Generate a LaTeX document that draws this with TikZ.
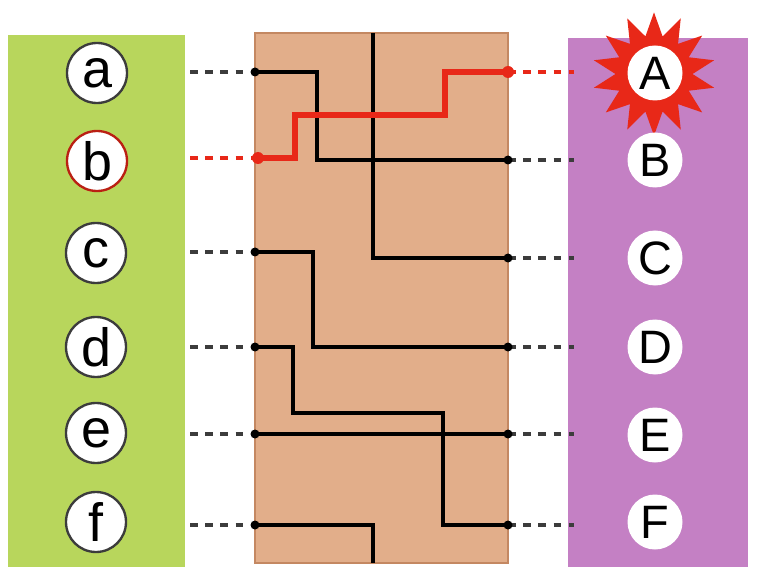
\documentclass[tikz,border=0pt]{standalone}
\usepackage{fontspec}
\setsansfont{Liberation Sans}
\usetikzlibrary{shapes.geometric}
\definecolor{leftgreen}{RGB}{184,214,92}
\definecolor{rightpurple}{RGB}{196,128,196}
\definecolor{boardtan}{RGB}{226,174,138}
\definecolor{boardedge}{RGB}{196,136,98}
\definecolor{wirered}{RGB}{232,40,24}
\definecolor{dashgray}{RGB}{60,60,60}

\begin{document}
\begin{tikzpicture}[x=0.03cm, y=-0.03cm,
    lbl/.style={circle, draw=dashgray, line width=2pt, fill=white,
      minimum size=1.8cm, inner sep=0pt,
      font=\sffamily\fontsize{46}{50}\selectfont},
    rlbl/.style={lbl, draw=none, minimum size=1.65cm,
      font=\sffamily\fontsize{40}{44}\selectfont},
    wire/.style={line width=3.6pt, line join=miter},
    redwire/.style={wirered, line width=5.2pt, line join=miter},
    lead/.style={dashgray, line width=3.6pt, dash pattern=on 6.5pt off 6.5pt},
    redlead/.style={lead, wirered}]
  \useasboundingbox (0,0) rectangle (757,567);
  % 三块底板
  \fill[leftgreen] (8,35) rectangle (185,567);
  \fill[rightpurple] (568,38) rectangle (748,567);
  \filldraw[fill=boardtan, draw=boardedge, line width=1.2pt] (255,33) rectangle (508,563);
  % 接线点
  \coordinate (pa) at (255,72);
  \coordinate (pb) at (258,158);
  \coordinate (pc) at (255,252);
  \coordinate (pd) at (255,347);
  \coordinate (pe) at (255,434);
  \coordinate (pf) at (255,525);
  \coordinate (pA) at (508,72);
  \coordinate (pB) at (508,160);
  \coordinate (pC) at (508,258);
  \coordinate (pD) at (508,347);
  \coordinate (pE) at (508,434);
  \coordinate (pF) at (508,525);
  \coordinate (top) at (373,33);
  \coordinate (bot) at (373,563);
  % 板内导线
  \draw[wire] (pa) -- (317,72) |- (pB);
  \draw[wire] (top) |- (pC);
  \draw[wire] (pc) -- (313,252) |- (pD);
  \draw[wire] (pd) -- (293,347) |- (443,413) |- (pF);
  \draw[wire] (pe) -- (pE);
  \draw[wire] (pf) -| (bot);
  \draw[redwire] (pb) -- (295,158) |- (445,115) |- (pA);
  % 虚线引线
  \coordinate (sa) at (190,72);
  \coordinate (sb) at (190,158);
  \coordinate (sc) at (190,252);
  \coordinate (sd) at (190,347);
  \coordinate (se) at (190,434);
  \coordinate (sf) at (190,525);
  \coordinate (sA) at (574,72);
  \coordinate (sB) at (574,160);
  \coordinate (sC) at (574,258);
  \coordinate (sD) at (574,347);
  \coordinate (sE) at (574,434);
  \coordinate (sF) at (574,525);
  \draw[lead] (sa) -- (pa);
  \draw[redlead] (sb) -- (pb);
  \draw[lead] (sc) -- (pc);
  \draw[lead] (sd) -- (pd);
  \draw[lead] (se) -- (pe);
  \draw[lead] (sf) -- (pf);
  \draw[redlead] (pA) -- (sA);
  \draw[lead] (pB) -- (sB);
  \draw[lead] (pC) -- (sC);
  \draw[lead] (pD) -- (sD);
  \draw[lead] (pE) -- (sE);
  \draw[lead] (pF) -- (sF);
  \foreach \p in {pa,pc,pd,pe,pf,pB,pC,pD,pE,pF}
    \fill (\p) circle (4.5);
  \fill[wirered] (pb) circle (6);
  \fill[wirered] (pA) circle (6);
  % 红色爆炸标记
  \node[star, star points=14, star point ratio=1.6, fill=wirered,
    minimum size=3.7cm, inner sep=0pt] (burst) at (654,74) {};
  % 字母圆圈
  \node[lbl] (a) at (97,73) {a};
  \node[lbl, draw=wirered!80!black] (b) at (97,161) {b};
  \node[lbl] (c) at (96,253) {c};
  \node[lbl] (d) at (96,347) {d};
  \node[lbl] (e) at (96,433) {e};
  \node[lbl] (f) at (96,522) {f};
  \node[rlbl] (A) at (655,73) {A};
  \node[rlbl] (B) at (655,160) {B};
  \node[rlbl] (C) at (655,258) {C};
  \node[rlbl] (D) at (655,347) {D};
  \node[rlbl] (E) at (655,435) {E};
  \node[rlbl] (F) at (655,522) {F};
\end{tikzpicture}
\end{document}
